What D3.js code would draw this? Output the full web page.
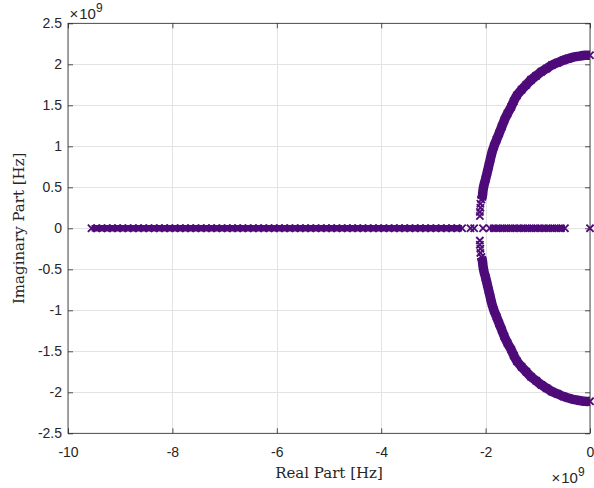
<!DOCTYPE html>
<html><head><meta charset="utf-8">
<script src="https://cdn.jsdelivr.net/npm/d3@7"></script>
<style>body{margin:0;background:#fff}</style>
</head><body><svg id="c" width="594" height="488"></svg>
<script>
// ---- data (units of 1e9 Hz) ----
const xTicks = [-10, -8, -6, -4, -2, 0];
const yTicks = [-2.5, -2, -1.5, -1, -0.5, 0, 0.5, 1, 1.5, 2, 2.5];
const xTickLabels = ["-10", "-8", "-6", "-4", "-2", "0"];
const yTickLabels = ["-2.5", "-2", "-1.5", "-1", "-0.5", "0", "0.5", "1", "1.5", "2", "2.5"];

// dense poles on the real axis (left cluster)
const realLeft = [-9.55,-9.45,-9.35,-9.25,-9.15,-9.05,-8.95,-8.85,-8.75,-8.65,-8.55,-8.45,-8.35,-8.25,-8.15,-8.05,-7.95,-7.85,-7.75,-7.65,-7.55,-7.45,-7.35,-7.25,-7.15,-7.05,-6.95,-6.85,-6.75,-6.65,-6.55,-6.45,-6.35,-6.25,-6.15,-6.05,-5.95,-5.85,-5.75,-5.65,-5.55,-5.45,-5.35,-5.25,-5.15,-5.05,-4.95,-4.85,-4.75,-4.65,-4.55,-4.45,-4.35,-4.25,-4.15,-4.05,-3.95,-3.85,-3.75,-3.65,-3.55,-3.45,-3.35,-3.25,-3.15,-3.05,-2.95,-2.85,-2.75,-2.65,-2.55,-2.45];
// dense poles on the real axis (right cluster)
const realRight = [-1.92,-1.84,-1.76,-1.68,-1.60,-1.52,-1.44,-1.36,-1.28,-1.20,-1.12,-1.04,-0.96,-0.88,-0.80,-0.72,-0.64,-0.56,-0.48];
// isolated real poles
const realSingles = [-2.29, -2.22, -2.05, 0];

// isolated complex poles near the real axis
const sparseUpperRe = [-2.11, -2.11, -2.10, -2.10];
const sparseUpperIm = [0.15, 0.20, 0.25, 0.30];
const sparseLowerRe = [-2.11, -2.11, -2.10, -2.10];
const sparseLowerIm = [-0.15, -0.20, -0.25, -0.30];

// upper arc of complex poles
const arcUpperRe = [-2.08,-2.06,-2.05,-2.03,-2.00,-1.97,-1.94,-1.91,-1.88,-1.84,-1.79,-1.74,-1.69,-1.64,-1.58,-1.51,-1.46,-1.40,-1.31,-1.22,-1.13,-1.03,-0.93,-0.83,-0.73,-0.62,-0.51,-0.41,-0.30,-0.20,-0.10,0.0];
const arcUpperIm = [0.35,0.40,0.46,0.53,0.60,0.68,0.76,0.84,0.92,1.00,1.08,1.16,1.24,1.32,1.40,1.48,1.55,1.62,1.69,1.75,1.81,1.86,1.91,1.95,1.99,2.02,2.05,2.07,2.09,2.10,2.11,2.11];
// lower arc (conjugates)
const arcLowerRe = [-2.08,-2.06,-2.05,-2.03,-2.00,-1.97,-1.94,-1.91,-1.88,-1.84,-1.79,-1.74,-1.69,-1.64,-1.58,-1.51,-1.46,-1.40,-1.31,-1.22,-1.13,-1.03,-0.93,-0.83,-0.73,-0.62,-0.51,-0.41,-0.30,-0.20,-0.10,0.0];
const arcLowerIm = [-0.35,-0.40,-0.46,-0.53,-0.60,-0.68,-0.76,-0.84,-0.92,-1.00,-1.08,-1.16,-1.24,-1.32,-1.40,-1.48,-1.55,-1.62,-1.69,-1.75,-1.81,-1.86,-1.91,-1.95,-1.99,-2.02,-2.05,-2.07,-2.09,-2.10,-2.11,-2.11];

// ---- drawing ----
const W = 594, H = 488;
const PL = 68, PR = 590, PT = 23.3, PB = 433.3;
const C = "#4E0B79";
const svg = d3.select("#c");
const x = d3.scaleLinear().domain([-10, 0]).range([PL, PR]);
const y = d3.scaleLinear().domain([-2.5, 2.5]).range([PB, PT]);

svg.append("rect").attr("width", W).attr("height", H).attr("fill", "#fff");

// grid
const grid = svg.append("g").attr("stroke", "#e3e3e3").attr("stroke-width", 1);
grid.selectAll(".gx").data(xTicks).join("line")
  .attr("x1", d => Math.round(x(d)) + 0.5).attr("x2", d => Math.round(x(d)) + 0.5)
  .attr("y1", PT).attr("y2", PB);
grid.selectAll(".gy").data(yTicks).join("line")
  .attr("y1", d => Math.round(y(d)) + 0.5).attr("y2", d => Math.round(y(d)) + 0.5)
  .attr("x1", PL).attr("x2", PR);

const font = "'Liberation Sans', Arial, Helvetica, sans-serif";
function styleAxis(g) {
  g.select(".domain").remove();
  g.selectAll(".tick line").attr("stroke", "#262626").attr("stroke-width", 0.8);
  g.selectAll(".tick text").attr("fill", "#262626").style("font-family", font).style("font-size", "14px");
}
const axB = svg.append("g").attr("transform", `translate(0,${PB})`)
  .call(d3.axisBottom(x).tickValues(xTicks).tickFormat((d, i) => xTickLabels[i]).tickSizeInner(-5).tickSizeOuter(0).tickPadding(13.8));
styleAxis(axB);
const axT = svg.append("g").attr("transform", `translate(0,${PT})`)
  .call(d3.axisTop(x).tickValues(xTicks).tickFormat("").tickSizeInner(-5).tickSizeOuter(0));
styleAxis(axT);
const axL = svg.append("g").attr("transform", `translate(${PL},0)`)
  .call(d3.axisLeft(y).tickValues(yTicks).tickFormat((d, i) => yTickLabels[i]).tickSizeInner(-5).tickSizeOuter(0).tickPadding(6));
styleAxis(axL);
const axR = svg.append("g").attr("transform", `translate(${PR},0)`)
  .call(d3.axisRight(y).tickValues(yTicks).tickFormat("").tickSizeInner(-5).tickSizeOuter(0));
styleAxis(axR);

// box
svg.append("rect").attr("x", PL).attr("y", PT).attr("width", PR - PL).attr("height", PB - PT)
  .attr("fill", "none").attr("stroke", "#262626").attr("stroke-width", 0.8);

// marks
const marks = svg.append("g");
const line = d3.line().x(d => x(d[0])).y(d => y(d[1])).curve(d3.curveCatmullRom);
const leftPts = realLeft.map(v => [v, 0]);
const rightPts = realRight.map(v => [v, 0]);
const upPts = arcUpperRe.map((v, i) => [v, arcUpperIm[i]]);
const loPts = arcLowerRe.map((v, i) => [v, arcLowerIm[i]]);
[leftPts, rightPts].forEach(p => marks.append("path").attr("d", line(p))
  .attr("fill", "none").attr("stroke", C).attr("stroke-width", 6.5));
[upPts, loPts].forEach(p => marks.append("path").attr("d", line(p))
  .attr("fill", "none").attr("stroke", C).attr("stroke-width", 9.5));

const allPts = [].concat(
  leftPts, rightPts, realSingles.map(v => [v, 0]),
  sparseUpperRe.map((v, i) => [v, sparseUpperIm[i]]),
  sparseLowerRe.map((v, i) => [v, sparseLowerIm[i]]),
  upPts, loPts);
const s = 3.6;
marks.selectAll(".m").data(allPts).join("path")
  .attr("transform", d => `translate(${x(d[0])},${y(d[1])})`)
  .attr("d", `M${-s},${-s}L${s},${s}M${-s},${s}L${s},${-s}`)
  .attr("fill", "none").attr("stroke", C).attr("stroke-width", 1.9);

// exponent labels
function expo(xp, yb) {
  const t = svg.append("text").attr("x", xp).attr("y", yb).attr("fill", "#262626")
    .style("font-family", font).style("font-size", "15px");
  t.append("tspan").text("\u00d7");
  t.append("tspan").attr("dx", 1).text("10");
  t.append("tspan").attr("dy", -7).style("font-size", "12px").text("9");
}
expo(69.5, 18.5);
expo(551.5, 483.3);

// axis labels
const serif = "'DejaVu Serif', 'Liberation Serif', serif";
svg.append("text").attr("x", x(-5)).attr("y", 477.5).attr("text-anchor", "middle")
  .attr("fill", "#262626").style("font-family", serif).style("font-size", "15px").text("Real Part [Hz]");
svg.append("text").attr("transform", `translate(24,${y(0)}) rotate(-90)`).attr("text-anchor", "middle")
  .attr("fill", "#262626").style("font-family", serif).style("font-size", "15px").text("Imaginary Part [Hz]");
</script>
</body></html>
